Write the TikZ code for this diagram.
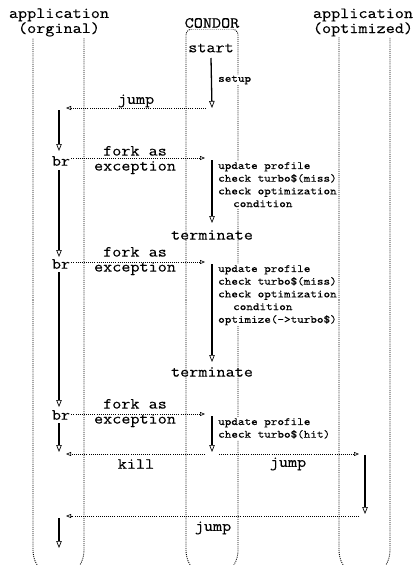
\documentclass[tikz,border=0pt]{standalone}
\usepackage{fontspec}
\newfontfamily\cour{Latin Modern Mono}[FakeStretch=1.14,FakeBold=0.2]
\usetikzlibrary{arrows.meta}
\begin{document}
\begin{tikzpicture}[x=1pt,y=-1pt,
  lane/.style={line width=0.85pt, dash pattern=on 1pt off 1.1pt},
  conn/.style={line width=0.75pt, dash pattern=on 1pt off 1.1pt, -{Triangle[open,length=5pt,width=4pt,line width=0.6pt]}},
  tl/.style={line width=1.3pt, -{Triangle[open,length=7pt,width=5.5pt,line width=0.7pt]}},
  title/.style={font=\cour\fontsize{15.5}{15}\selectfont, fill=white, inner sep=1pt, align=center},
  big/.style={font=\cour\fontsize{15.5}{15}\selectfont, inner sep=1pt, align=center},
  note/.style={font=\cour\fontsize{11}{12.7}\selectfont, fill=white, inner sep=1pt, align=left, anchor=north west}]
\useasboundingbox (0,0) rectangle (417,565);
% lanes
\begin{scope}
\clip (0,0) rectangle (417,565);
\foreach \xa/\xb/\yt in {33/84/24, 186/238/29, 339/390/24}{
  \draw[lane, rounded corners=6] (\xa,300) -- (\xa,\yt) -- (\xb,\yt) -- (\xb,300);
  \draw[lane, rounded corners=30] (\xa,300) -- (\xa,580) -- (\xb,580) -- (\xb,300);
}
\end{scope}
% titles
\node[title] (appO) at (59,22.5) {application\\(orginal)};
\node[title] (condor) at (212,23) {CONDOR};
\node[title] (appP) at (363,22.5) {application\\(optimized)};
% condor side
\node[big] (start) at (211,48) {start};
\node[note, anchor=west] (setup) at (217,80) {setup};
\node[note] (n1) at (217,161) {update profile\\check turbo\$(miss)\\check optimization\\\hspace*{15pt}condition};
\node[big] (term1) at (212,235) {terminate};
\node[note] (n2) at (217,264) {update profile\\check turbo\$(miss)\\check optimization\\\hspace*{15pt}condition\\optimize(->turbo\$)};
\node[big] (term2) at (212,372) {terminate};
\node[note] (n3) at (217,417) {update profile\\check turbo\$(hit)};
% application side
\node[big] (br1) at (61,161) {br};
\node[big] (br2) at (61,264) {br};
\node[big] (br3) at (61,415) {br};
\node[big] (fe1) at (135,160) {fork as\\exception};
\node[big] (fe2) at (135,261) {fork as\\exception};
\node[big] (fe3) at (135,413) {fork as\\exception};
\node[big] (jumpA) at (136,101) {jump};
\node[big] (kill) at (136,464) {kill};
\node[big] (jumpB) at (288,464) {jump};
\node[big] (jumpC) at (213,528) {jump};
% coordinates
\coordinate (c1b) at (212,108);
\coordinate (j1a) at (206,108);
\coordinate (j1b) at (66,108);
\coordinate (L1a) at (59,110);
\coordinate (L1b) at (59,151);
\coordinate (f1b) at (205,158);
\coordinate (c2a) at (212,160);
\coordinate (c2b) at (212,223);
\coordinate (L2a) at (59,170);
\coordinate (L2b) at (59,257);
\coordinate (f2b) at (205,262);
\coordinate (c3a) at (212,264);
\coordinate (c3b) at (212,362);
\coordinate (L3a) at (59,272);
\coordinate (L3b) at (59,407);
\coordinate (f3b) at (205,414);
\coordinate (c4a) at (212,416);
\coordinate (c4b) at (212,452);
\coordinate (L4a) at (59,423);
\coordinate (L4b) at (59,452);
\coordinate (ka) at (205,454);
\coordinate (kb) at (66,454);
\coordinate (ja) at (219,454);
\coordinate (jb) at (359,454);
\coordinate (Ra) at (365,455);
\coordinate (Rb) at (365,514);
\coordinate (jc) at (359,516);
\coordinate (jd) at (66,516);
\coordinate (L5a) at (59,518);
\coordinate (L5b) at (59,548);
% connectors
\draw[tl] (start.south |- 0,58) -- (c1b);
\draw[conn] (j1a) -- (j1b);
\draw[tl] (L1a) -- (L1b);
\draw[conn] (br1.east |- f1b) -- (f1b);
\draw[tl] (c2a) -- (c2b);
\draw[tl] (L2a) -- (L2b);
\draw[conn] (br2.east |- f2b) -- (f2b);
\draw[tl] (c3a) -- (c3b);
\draw[tl] (L3a) -- (L3b);
\draw[conn] (br3.east |- f3b) -- (f3b);
\draw[tl] (c4a) -- (c4b);
\draw[tl] (L4a) -- (L4b);
\draw[conn] (ka) -- (kb);
\draw[conn] (ja) -- (jb);
\draw[tl] (Ra) -- (Rb);
\draw[conn] (jc) -- (jd);
\draw[tl] (L5a) -- (L5b);
\end{tikzpicture}
\end{document}
